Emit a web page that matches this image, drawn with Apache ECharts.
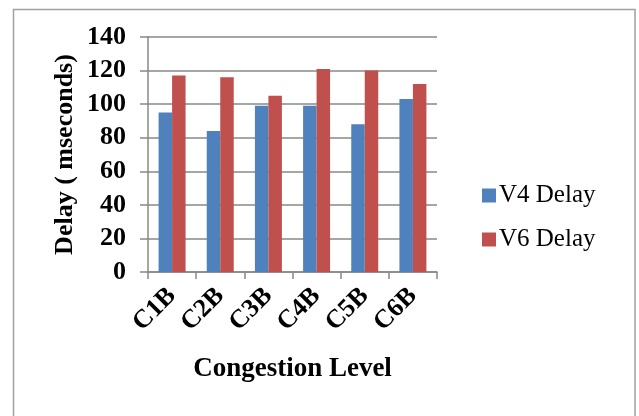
<!DOCTYPE html>
<html>
<head>
<meta charset="utf-8">
<script src="https://cdn.jsdelivr.net/npm/echarts@6/dist/echarts.min.js"></script>
<style>
html,body{margin:0;padding:0;background:#fff;}
#chart{width:639px;height:416px;}
</style>
</head>
<body>
<div id="chart"></div>
<script>
const categories = ['C1B', 'C2B', 'C3B', 'C4B', 'C5B', 'C6B'];
const v4Delay = [95, 84, 99, 99, 88, 103];
const v6Delay = [117, 116, 105, 121, 120, 112];
const seriesNames = ['V4 Delay', 'V6 Delay'];
const yTicks = { min: 0, max: 140, interval: 20 };

const chart = echarts.init(document.getElementById('chart'), null, { renderer: 'canvas' });
const serif = '"Liberation Serif", "Times New Roman", serif';
chart.setOption({
  animation: false,
  backgroundColor: '#fff',
  graphic: [{
    type: 'rect',
    shape: { x: 13.5, y: 9.5, width: 621.5, height: 420 },
    style: { fill: 'none', stroke: '#a0a0a0', lineWidth: 1.5 },
    silent: true
  }],
  grid: { left: 148, right: 202, top: 37, bottom: 144, containLabel: false },
  legend: {
    orient: 'vertical',
    left: 477,
    top: 178,
    itemWidth: 14,
    itemHeight: 14,
    itemGap: 19,
    icon: 'rect',
    textStyle: { fontFamily: serif, fontSize: 25, color: '#000', padding: [0, 0, 0, -2] },
    data: seriesNames
  },
  xAxis: {
    type: 'category',
    data: categories,
    name: 'Congestion Level',
    nameLocation: 'middle',
    nameGap: 84,
    nameTextStyle: { fontFamily: serif, fontSize: 27, fontWeight: 'bold', color: '#000' },
    axisLine: { lineStyle: { color: '#888', width: 1.5 } },
    axisTick: { show: true, length: 7, lineStyle: { color: '#888', width: 1.5 } },
    axisLabel: { rotate: 45, margin: 20, fontFamily: serif, fontSize: 26, fontWeight: 'bold', color: '#000' }
  },
  yAxis: {
    type: 'value',
    min: yTicks.min, max: yTicks.max, interval: yTicks.interval,
    name: 'Delay ( mseconds)',
    nameLocation: 'middle',
    nameGap: 70,
    nameTextStyle: { fontFamily: serif, fontSize: 26, fontWeight: 'bold', color: '#000' },
    axisLine: { show: true, lineStyle: { color: '#888', width: 1.5 } },
    axisTick: { show: true, length: 8, lineStyle: { color: '#888', width: 1.5 } },
    splitLine: { show: true, lineStyle: { color: '#888', width: 1.5 } },
    axisLabel: { margin: 22, fontFamily: serif, fontSize: 26, fontWeight: 'bold', color: '#000' }
  },
  series: [
    { name: seriesNames[0], type: 'bar', data: v4Delay, barGap: '0%', barCategoryGap: '44%', itemStyle: { color: '#4F81BD' } },
    { name: seriesNames[1], type: 'bar', data: v6Delay, barGap: '0%', barCategoryGap: '44%', itemStyle: { color: '#C0504D' } }
  ]
});
</script>
</body>
</html>
